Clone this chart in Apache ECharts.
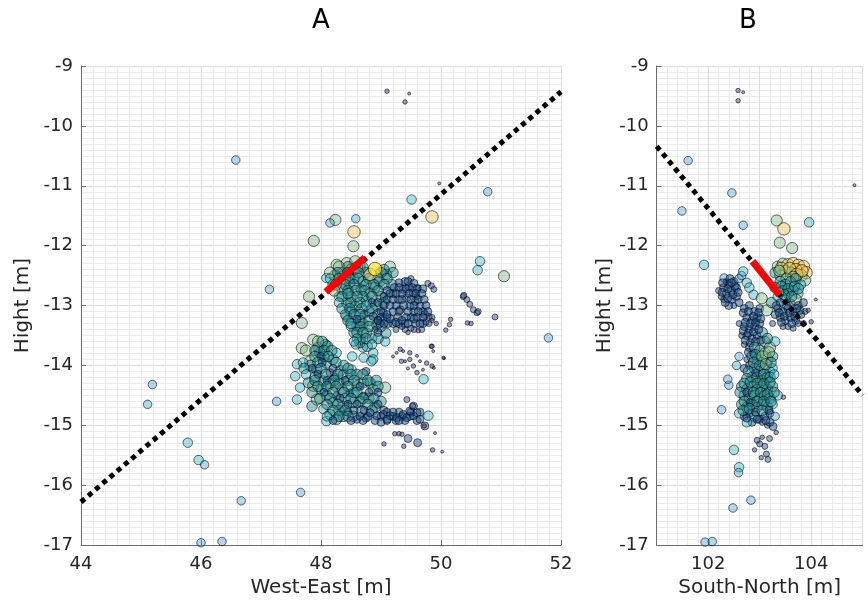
<!DOCTYPE html>
<html><head><meta charset="utf-8">
<script src="https://cdn.jsdelivr.net/npm/echarts@6/dist/echarts.min.js"></script>
<style>html,body{margin:0;padding:0;background:#fff}#c{width:868px;height:603px}</style>
</head><body><div id="c"></div>
<script>
// ---------- DATA: each point = [horizontal position (m), Hight (m), magnitude class 0..10] ----------
// Panel A (West-East)
const aOutliers = [
  [49.1,-9.42,1],[49.47,-9.46,0],[49.4,-9.6,1],[46.58,-10.57,4],[49.97,-10.96,0],[50.78,-11.1,4],
  [49.51,-11.23,5],[49.85,-11.52,8],[48.24,-11.57,7],[48.15,-11.62,4],[48.58,-11.55,4],[48.55,-11.77,8],
  [48.54,-12.01,7],[47.88,-11.92,7],[50.65,-12.26,5],[50.61,-12.41,5],[51.05,-12.51,7],[47.14,-12.73,4],
  [51.79,-13.54,4],[50.9,-13.19,2],[45.19,-14.32,4],[45.11,-14.65,4],[47.26,-14.6,4],[45.78,-15.29,5],
  [45.96,-15.58,5],[46.06,-15.66,4],[47.66,-16.12,4],[46.67,-16.26,4],[46.0,-16.96,4],[46.35,-16.94,4],
  [47.8,-12.85,7],[47.68,-13.29,7]
];
const aUpper = [
  [48.26,-12.32,7],[48.43,-12.29,7],[48.57,-12.26,7],[48.09,-12.54,5],[48.23,-12.5,7],[48.35,-12.45,6],
  [48.5,-12.4,7],[48.65,-12.35,6],[49.15,-12.35,7],[49.09,-12.48,6],[48.98,-12.6,6],[49.18,-12.65,6],
  [49.05,-12.4,6],[48.48,-12.62,6],[48.35,-12.73,6],[48.67,-12.73,6],[48.82,-12.79,6],[48.2,-12.65,6],
  [48.43,-12.96,6],[48.57,-13.02,6],[48.76,-12.93,6],[48.93,-13.01,6],[48.3,-12.85,5],[48.43,-13.18,6],
  [48.6,-13.34,6],[48.76,-13.46,6],[48.65,-13.57,6],[48.93,-13.32,6],[49.07,-13.6,5],[49.08,-13.46,6],
  [48.55,-13.45,6],[48.7,-13.7,5],[48.87,-13.79,5],[48.71,-13.87,5],[48.52,-13.85,5],[48.87,-13.9,5],
  [48.65,-13.62,6],[48.77,-13.68,6],[48.55,-12.55,6],[48.7,-12.6,6],[48.9,-12.7,6],[48.4,-12.55,7],
  [48.75,-12.45,6],[49.0,-12.85,6],[48.8,-13.1,6],[48.5,-13.1,6],[48.7,-13.3,6],[48.85,-13.55,5],
  [48.3,-12.35,7],[48.45,-12.35,6],[48.6,-12.36,7],[48.7,-12.36,6],
  [48.15,-12.45,7],[48.28,-12.45,6],[48.45,-12.45,6],[48.62,-12.45,6],[49.0,-12.45,6],[49.2,-12.45,6],
  [48.15,-12.55,5],[48.3,-12.55,6],[48.48,-12.55,6],[48.62,-12.55,6],[48.8,-12.55,6],[48.95,-12.55,6],[49.1,-12.55,6],
  [48.25,-12.65,7],[48.4,-12.65,6],[48.55,-12.65,6],[48.75,-12.65,6],[48.88,-12.65,6],[49.05,-12.65,6],
  [48.22,-12.75,7],[48.45,-12.75,6],[48.58,-12.75,6],[48.72,-12.75,6],[48.95,-12.75,6],[49.1,-12.75,3],
  [48.35,-12.85,6],[48.5,-12.85,6],[48.7,-12.85,6],[48.85,-12.85,6],[49.05,-12.85,3],
  [48.3,-12.95,5],[48.5,-12.95,6],[48.65,-12.95,6],[48.85,-12.95,3],[49.05,-12.95,6],
  [48.35,-13.05,6],[48.48,-13.05,6],[48.68,-13.05,6],[48.85,-13.05,6],
  [48.4,-13.15,5],[48.55,-13.15,6],[48.72,-13.15,3],[48.95,-13.15,6],
  [48.45,-13.25,6],[48.65,-13.25,6],[48.8,-13.25,6],[48.95,-13.25,3],
  [48.5,-13.35,5],[48.65,-13.35,6],[48.8,-13.35,6],[49.0,-13.35,6],
  [48.6,-13.45,6],[48.7,-13.45,6],[48.95,-13.45,3],[48.6,-13.55,5],[48.75,-13.55,6],[48.95,-13.55,6],
  [48.58,-13.65,5],[48.85,-13.65,5],
  [48.6,-12.85,6],[48.75,-13.0,5],[48.5,-13.3,6],[48.9,-13.4,2],[48.65,-13.15,6],[48.45,-12.8,6],
  [48.95,-12.95,3],[48.55,-13.6,5],[48.6,-13.23,3],[48.87,-13.18,3],[49.04,-13.12,3],
  [48.82,-12.48,8],[48.9,-12.39,10]
];
const aRight = [
  [49.37,-12.73,3],[49.46,-12.68,3],[49.54,-12.79,3],[49.43,-12.87,3],[49.57,-12.93,3],[49.48,-13.01,3],
  [49.65,-13.01,3],[49.32,-13.07,3],[49.29,-12.9,3],[49.4,-12.6,3],[49.5,-12.55,2],[49.6,-12.85,2],
  [49.2,-12.8,3],[49.25,-13.0,3],[49.55,-13.1,3],[49.7,-13.1,3],[49.62,-12.7,2],[49.78,-12.63,2],
  [49.84,-12.67,2],[49.88,-12.73,2],[49.73,-13.15,3],[49.8,-13.18,2],
  [49.3,-12.62,3],[49.45,-12.6,3],[49.55,-12.63,3],
  [49.22,-12.7,3],[49.3,-12.7,3],[49.42,-12.72,3],[49.52,-12.7,3],[49.6,-12.72,3],[49.7,-12.72,3],
  [49.15,-12.8,3],[49.25,-12.8,3],[49.35,-12.8,3],[49.47,-12.8,3],[49.58,-12.8,3],[49.68,-12.8,3],
  [49.1,-12.9,3],[49.2,-12.9,3],[49.35,-12.9,3],[49.5,-12.9,3],[49.62,-12.9,3],[49.72,-12.9,3],
  [49.05,-13.0,3],[49.15,-13.0,3],[49.38,-13.0,3],[49.55,-13.0,3],[49.75,-13.0,3],
  [49.0,-13.1,3],[49.2,-13.1,3],[49.3,-13.1,3],[49.45,-13.1,3],[49.62,-13.1,3],[49.78,-13.1,3],
  [49.0,-13.2,3],[49.1,-13.2,3],[49.28,-13.2,3],[49.42,-13.2,3],[49.5,-13.2,3],[49.6,-13.2,3],[49.7,-13.2,3],[49.85,-13.2,2],
  [48.98,-13.3,3],[49.12,-13.3,3],[49.2,-13.3,3],[49.3,-13.3,3],[49.4,-13.3,3],[49.58,-13.3,3],[49.7,-13.3,3],[49.8,-13.3,2],
  [49.25,-13.4,2],[49.4,-13.4,2],[49.55,-13.4,2],[49.68,-13.4,2],
  [48.95,-13.25,3],[49.05,-13.3,3],[49.15,-13.22,3],[49.25,-13.28,3],[49.35,-13.25,3],[49.45,-13.3,3],
  [49.55,-13.22,3],[49.65,-13.3,3],[49.35,-13.35,2],[49.75,-13.28,2],[49.85,-13.25,1],[49.92,-13.3,1],
  [49.1,-13.15,3],[49.5,-13.38,2],[49.62,-13.42,1],[49.45,-13.45,1],
  [50.37,-12.85,2],[50.43,-12.9,2],[50.48,-12.98,2],[50.54,-13.07,2],[50.6,-13.12,2],[50.62,-13.1,2],
  [50.44,-13.29,1],[50.5,-13.3,1],[50.38,-12.83,2],[50.08,-13.41,1],[50.16,-13.23,1],[50.14,-13.32,1],
  [49.84,-13.68,1],[50.05,-13.88,0]
];
const aFine = [
  [49.26,-13.79,0],[49.32,-13.73,1],[49.37,-13.76,0],[49.48,-13.79,1],[49.6,-13.84,0],[49.34,-13.93,1],
  [49.4,-13.93,0],[49.48,-13.9,1],[49.65,-13.93,0],[49.76,-13.96,1],[49.85,-13.68,1],[49.87,-13.76,0],
  [50.04,-13.87,0],[49.54,-14.01,1],[49.7,-14.07,0],[49.85,-14.01,1],[49.88,-14.04,0],[49.6,-14.12,1],
  [49.2,-13.85,0],[49.45,-14.05,0]
];
const aLower = [
  [47.68,-13.71,7],[47.87,-13.57,7],[48.07,-13.65,6],[48.11,-13.68,6],[47.98,-13.79,6],[47.82,-13.93,7],
  [47.6,-13.98,5],[47.57,-14.18,5],[47.65,-14.37,5],[47.6,-14.57,5],[47.87,-14.34,7],[47.82,-14.0,6],
  [47.93,-14.07,6],[48.09,-13.96,6],[48.2,-13.9,6],[48.26,-13.79,5],[48.15,-14.12,3],[48.04,-14.26,6],
  [48.23,-14.2,3],[48.32,-14.09,6],[48.37,-14.15,5],[48.51,-14.07,5],[48.84,-13.93,5],[47.79,-14.29,6],
  [47.93,-14.57,7],[47.85,-14.68,6],[48.04,-14.73,5],[48.2,-14.62,6],[48.26,-14.51,3],[48.35,-14.4,6],
  [48.48,-14.46,3],[48.6,-14.34,6],[48.71,-14.29,6],[48.82,-14.29,6],[48.87,-14.4,6],[49.07,-14.37,7],
  [48.71,-14.51,3],[48.54,-14.62,6],[48.37,-14.68,6],[48.37,-14.85,6],[48.09,-14.93,5],[48.26,-14.9,6],
  [48.54,-14.85,6],[48.68,-14.76,6],[48.0,-14.4,6],[48.1,-14.5,6],[48.15,-14.3,6],[48.3,-14.3,6],
  [48.45,-14.25,6],[48.55,-14.45,6],[48.65,-14.6,6],[48.4,-14.55,6],[48.3,-14.75,6],[48.45,-14.78,3],
  [48.6,-14.9,3],[48.75,-14.88,3],[48.9,-14.7,6],[49.0,-14.6,6],[48.8,-14.55,6],[47.95,-13.7,6],
  [48.05,-13.85,6],[47.9,-14.2,6],[48.15,-14.82,6],[48.38,-14.0,6],[48.6,-14.15,6],[48.75,-14.1,3],
  [47.95,-13.6,7],[48.02,-13.6,6],
  [47.75,-13.75,7],[47.9,-13.75,6],[48.05,-13.75,6],[48.18,-13.75,6],
  [47.9,-13.85,6],[48.0,-13.85,3],[48.12,-13.85,6],
  [47.7,-13.95,5],[47.95,-13.95,6],[48.02,-13.95,3],[48.25,-13.95,6],
  [47.72,-14.05,6],[47.85,-14.05,3],[48.0,-14.05,6],[48.2,-14.05,3],[48.45,-14.05,6],
  [47.75,-14.15,5],[47.95,-14.15,3],[48.08,-14.15,6],[48.28,-14.15,6],[48.5,-14.15,6],[48.7,-14.15,6],
  [47.9,-14.25,6],[48.1,-14.25,3],[48.22,-14.25,6],[48.4,-14.25,3],[48.55,-14.25,6],[48.78,-14.25,6],[48.92,-14.25,6],
  [47.95,-14.35,6],[48.1,-14.35,6],[48.25,-14.35,6],[48.45,-14.35,6],[48.65,-14.35,3],[48.95,-14.35,6],
  [47.85,-14.45,6],[48.05,-14.45,3],[48.2,-14.45,6],[48.38,-14.45,6],[48.6,-14.45,6],[48.8,-14.45,3],[48.95,-14.45,3],
  [47.98,-14.55,6],[48.15,-14.55,6],[48.32,-14.55,3],[48.5,-14.55,6],[48.7,-14.55,6],[48.88,-14.55,6],
  [48.1,-14.65,6],[48.28,-14.65,6],[48.45,-14.65,3],[48.6,-14.65,3],[48.78,-14.65,6],[48.95,-14.65,3],
  [48.2,-14.75,6],[48.4,-14.75,6],[48.55,-14.75,3],[48.72,-14.75,3],[48.85,-14.75,6],[49.05,-14.75,3],
  [48.1,-14.85,5],[48.3,-14.85,6],[48.45,-14.85,6],[48.65,-14.85,3],[48.78,-14.85,3],[49.0,-14.85,3],
  [49.2,-14.85,3],[49.35,-14.85,3],[49.48,-14.85,3],
  [48.2,-14.92,3],[48.5,-14.92,3],[48.7,-14.92,3],[48.9,-14.92,3],[49.1,-14.92,3],[49.25,-14.92,3],
  [49.4,-14.92,3],[49.6,-14.92,3],[49.1,-14.78,3],[49.3,-14.78,3],[49.5,-14.78,3],[49.65,-14.78,3],
  [48.82,-14.79,3],[48.93,-14.84,3],[49.04,-14.82,3],[49.15,-14.84,3],[49.26,-14.87,3],[49.37,-14.82,3],
  [49.43,-14.87,3],[49.54,-14.84,3],[49.6,-14.79,3],[49.79,-14.84,5],[49.73,-15.01,3],[49.1,-14.9,3],
  [49.2,-14.78,3],[49.3,-14.92,3],[49.48,-14.76,3],[49.65,-14.9,3],[49.0,-14.95,3],[49.54,-14.68,3],
  [49.71,-14.23,5]
];
const aTail = [
  [49.23,-15.14,1],[49.3,-15.14,1],[49.35,-15.15,1],[49.45,-15.22,3],[49.05,-15.31,1],[49.38,-15.35,1],
  [49.61,-15.29,3],[49.86,-15.41,1],[50.02,-15.44,0],[49.9,-15.13,0],[49.72,-15.01,1],[49.53,-14.68,2],
  [49.43,-14.57,2]
];
// Panel B (South-North)
const bOutliers = [
  [102.58,-9.41,1],[102.68,-9.44,0],[102.58,-9.58,1],[101.61,-10.58,4],[101.49,-11.42,4],[102.46,-11.12,4],
  [102.68,-11.66,4],[104.84,-10.99,0],[101.92,-12.32,5],[102.31,-12.54,4],[103.33,-11.58,7],[103.47,-11.72,8],
  [103.39,-11.95,7],[103.63,-12.04,7],[103.96,-11.61,5],[104.09,-12.9,0],[103.46,-14.53,1],[102.4,-14.33,4],
  [102.38,-14.23,4],[102.26,-14.74,4],[102.5,-15.41,5],[102.6,-15.7,5],[102.59,-15.79,4],[102.83,-16.25,4],
  [102.48,-16.38,4],[101.94,-16.95,4],[102.08,-16.94,4]
];
const bBlob = [
  [102.3,-12.7,3],[102.35,-12.8,3],[102.4,-12.65,3],[102.45,-12.75,3],[102.5,-12.6,3],[102.55,-12.7,3],
  [102.45,-12.9,3],[102.3,-12.9,2],[102.4,-13.0,3],[102.55,-12.85,3],[102.6,-12.55,4],[102.35,-12.6,2],
  [102.25,-12.85,2],[102.5,-13.0,2],[102.6,-12.95,3],[102.65,-12.5,4],[102.2,-12.75,2],
  [102.28,-12.62,3],[102.38,-12.72,3],[102.48,-12.82,3],[102.42,-12.55,3],[102.52,-12.68,3],[102.33,-12.95,3],
  [102.58,-12.78,3],[102.27,-12.78,3],[102.45,-12.62,3],[102.38,-12.88,3],
  [102.75,-12.62,5],[102.88,-12.82,5],[103.04,-12.88,7],[102.68,-12.43,5],[103.14,-13.08,7],[103.23,-12.95,6],
  [102.8,-12.7,5]
];
const bColumn = [
  [102.7,-13.05,3],[102.8,-13.0,3],[102.9,-13.1,3],[103.0,-13.05,3],[102.75,-13.2,3],[102.85,-13.25,3],
  [102.95,-13.2,3],[102.7,-13.35,3],[102.8,-13.4,3],[102.9,-13.35,3],[103.0,-13.3,3],[102.75,-13.5,3],
  [102.85,-13.55,3],[102.95,-13.5,3],[102.7,-13.65,2],[102.8,-13.7,3],[102.65,-13.5,2],[103.05,-13.45,6],
  [103.1,-13.6,6],[102.6,-13.3,2],
  [102.68,-13.12,3],[102.78,-13.1,3],[102.88,-13.18,3],[102.98,-13.12,3],[102.72,-13.28,3],[102.82,-13.3,3],
  [102.92,-13.28,3],[103.02,-13.22,3],[102.68,-13.42,3],[102.78,-13.46,3],[102.88,-13.44,3],[102.98,-13.4,3],
  [102.72,-13.58,3],[102.82,-13.62,3],[102.92,-13.6,3],[103.02,-13.58,3],[102.78,-13.78,3],[102.88,-13.8,3],
  [102.9,-13.7,6],[103.0,-13.75,6],[103.1,-13.8,7],[103.2,-13.7,7],[102.85,-13.85,6],[102.95,-13.9,6],
  [103.05,-13.95,6],[103.15,-13.9,7],[103.25,-13.85,6],[102.8,-14.0,3],[102.9,-14.05,6],[103.0,-14.1,6],
  [103.1,-14.05,6],[103.2,-14.1,5],[102.75,-13.9,2],[102.7,-14.05,3],[102.95,-14.2,6],[103.05,-14.25,6],
  [103.15,-14.2,6],[102.85,-14.2,6],[103.25,-14.05,5],[103.3,-13.6,5],[102.6,-13.85,4],[102.55,-14.0,4],
  [103.15,-13.55,6],
  [102.92,-13.82,6],[103.05,-13.85,7],[103.18,-13.78,7],[102.88,-13.95,6],[103.0,-14.0,6],[103.12,-13.98,7],
  [103.22,-13.95,6],[102.78,-14.1,6],[102.92,-14.12,3],[103.08,-14.15,6],[103.2,-14.2,6],[102.75,-14.22,6],
  [103.28,-14.15,5],
  [102.65,-14.35,6],[102.75,-14.4,6],[102.85,-14.35,6],[102.95,-14.4,6],[103.05,-14.35,6],[103.15,-14.4,6],
  [103.25,-14.35,6],[102.7,-14.5,6],[102.8,-14.55,6],[102.9,-14.5,6],[103.0,-14.55,6],[103.1,-14.5,6],
  [103.2,-14.55,6],[102.65,-14.65,6],[102.75,-14.7,6],[102.85,-14.65,6],[102.95,-14.7,6],[103.05,-14.65,6],
  [103.15,-14.7,6],[103.25,-14.65,5],[102.7,-14.85,3],[102.8,-14.8,3],[102.9,-14.85,6],[103.0,-14.9,3],
  [103.1,-14.85,3],[103.2,-14.8,3],[102.6,-14.8,5],[103.3,-14.85,4],[103.35,-14.5,5],[102.85,-14.95,3],
  [103.05,-14.95,2],[103.15,-15.0,2],[103.2,-14.95,3],[102.75,-14.95,5],
  [102.7,-14.3,6],[102.82,-14.28,6],[102.95,-14.3,6],[103.08,-14.3,6],[103.2,-14.28,6],[102.62,-14.45,6],
  [102.75,-14.45,3],[102.88,-14.45,6],[103.02,-14.45,6],[103.15,-14.48,6],[103.28,-14.45,6],[102.7,-14.6,6],
  [102.82,-14.62,3],[102.95,-14.6,6],[103.08,-14.6,6],[103.22,-14.6,6],[102.68,-14.75,6],[102.8,-14.72,6],
  [102.92,-14.78,3],[103.05,-14.75,6],[103.18,-14.75,3],[102.75,-14.88,3],[102.95,-14.9,3],[103.12,-14.92,3]
];
const bTail = [
  [102.9,-15.41,1],[103.0,-15.31,2],[103.1,-15.35,2],[103.13,-15.48,2],[103.03,-15.54,1],[103.16,-15.57,2],
  [103.19,-15.22,2],[103.26,-15.02,3],[103.32,-15.12,1],[103.05,-15.2,1],[102.95,-15.25,2]
];
const bNorth = [
  [103.35,-12.35,7],[103.45,-12.3,7],[103.55,-12.32,8],[103.65,-12.3,8],[103.75,-12.33,8],[103.85,-12.35,8],
  [103.9,-12.45,8],[103.7,-12.4,8],[103.5,-12.42,7],[103.4,-12.5,7],[103.6,-12.45,7],[103.8,-12.5,8],
  [103.88,-12.58,7],[103.3,-12.45,6],
  [103.42,-12.38,8],[103.58,-12.38,8],[103.72,-12.48,8],[103.82,-12.42,8],[103.65,-12.52,7],[103.52,-12.55,7],
  [103.38,-12.42,7],
  [103.4,-12.6,6],[103.5,-12.65,6],[103.6,-12.6,6],[103.7,-12.55,6],[103.8,-12.65,5],[103.45,-12.75,6],
  [103.55,-12.8,6],[103.65,-12.75,6],[103.35,-12.85,5],[103.75,-12.8,5],[103.5,-12.9,5],[103.6,-12.95,3],
  [103.4,-12.95,3],[103.7,-12.9,7],[103.3,-12.7,6],
  [103.42,-12.68,6],[103.55,-12.72,6],[103.68,-12.68,6],[103.48,-12.82,6],[103.62,-12.85,6],[103.38,-12.78,5],
  [103.75,-12.72,6],
  [103.35,-13.05,3],[103.45,-13.1,3],[103.55,-13.05,3],[103.65,-13.1,3],[103.75,-13.0,3],[103.85,-12.95,3],
  [103.4,-13.2,3],[103.5,-13.25,3],[103.6,-13.2,3],[103.7,-13.25,3],[103.8,-13.15,3],[103.88,-13.1,2],
  [103.55,-13.35,2],[103.65,-13.38,2],[103.75,-13.3,2],[103.45,-13.35,2],[103.85,-13.3,2],[103.94,-13.08,1],
  [104.0,-13.27,1],[103.3,-13.15,3],[103.25,-13.3,2],
  [103.38,-13.12,3],[103.48,-13.18,3],[103.58,-13.12,3],[103.68,-13.18,3],[103.78,-13.08,3],[103.42,-13.28,3],
  [103.62,-13.3,3],[103.72,-13.05,3],[103.52,-13.0,3],[103.32,-13.0,3]
];
// Fitted plane traces (dotted) and rupture segment (red)
const dottedA_x = [44, 52],        dottedA_y = [-16.28, -9.43];
const redA_x    = [48.08, 48.73],  redA_y    = [-12.77, -12.2];
const dottedB_x = [101, 105],      dottedB_y = [-10.34, -14.5];
const redB_x    = [102.86, 103.38], redB_y   = [-12.26, -12.82];
// Axis ticks
const xTicksA = [44, 46, 48, 50, 52];
const xTicksB = [102, 104];
const yTicks  = [-17, -16, -15, -14, -13, -12, -11, -10, -9];

// ---------- CHART ----------
const FONT = 'DejaVu Sans';
const TXT = '#262626';
const sizeTable = [3, 4.5, 6, 8, 8.5, 9.5, 10.5, 11.2, 12.5, 13, 13.5];
const sizeFor = v => sizeTable[Math.max(0, Math.min(10, Math.round(v[2])))];
const zip = (xs, ys) => xs.map((x, i) => [x, ys[i]]);

function xAxis(gi, min, max, interval, minorN, ticks, name, nameGap) {
  return {
    type: 'value', gridIndex: gi, min: min, max: max, interval: interval, position: 'bottom',
    name: name, nameLocation: 'middle', nameGap: nameGap,
    nameTextStyle: {fontFamily: FONT, fontSize: 20, color: TXT},
    axisLine: {show: true, onZero: false, lineStyle: {color: '#6b6b6b', width: 1}},
    axisTick: {show: gi === 0, inside: true, length: 5, lineStyle: {color: '#6b6b6b'}},
    axisLabel: {fontFamily: FONT, fontSize: 18, color: TXT, margin: 10,
      formatter: v => ticks.some(t => Math.abs(t - v) < 1e-6) ? String(Math.round(v)) : ''},
    splitLine: {show: true, lineStyle: {color: '#dcdcdc', width: 1}},
    minorTick: {show: false, splitNumber: minorN},
    minorSplitLine: {show: true, lineStyle: {color: '#ebebeb', width: 1}}
  };
}
function yAxis(gi, nameGap) {
  return {
    type: 'value', gridIndex: gi, min: yTicks[0], max: yTicks[yTicks.length - 1], interval: 1,
    name: 'Hight [m]', nameLocation: 'middle', nameGap: nameGap,
    nameTextStyle: {fontFamily: FONT, fontSize: 20, color: TXT},
    axisLine: {show: true, onZero: false, lineStyle: {color: '#6b6b6b', width: 1}},
    axisTick: {show: true, inside: true, length: 5, lineStyle: {color: '#6b6b6b'}},
    axisLabel: {fontFamily: FONT, fontSize: 18, color: TXT, margin: 8},
    splitLine: {show: true, lineStyle: {color: '#dcdcdc', width: 1}},
    minorTick: {show: false, splitNumber: 10},
    minorSplitLine: {show: true, lineStyle: {color: '#ebebeb', width: 1}}
  };
}
const scatterStyle = {borderColor: 'rgba(0,0,0,0.72)', borderWidth: 1};
function scatter(gi, data) {
  return {type: 'scatter', xAxisIndex: gi, yAxisIndex: gi, data: data, symbol: 'circle',
    symbolSize: sizeFor, itemStyle: scatterStyle, silent: true, z: 2};
}
function line(gi, xs, ys, style, z) {
  return {type: 'line', xAxisIndex: gi, yAxisIndex: gi, data: zip(xs, ys), showSymbol: false,
    symbol: 'none', lineStyle: style, silent: true, z: z};
}
const dotted = {color: '#000', width: 5, type: [5, 4.5], cap: 'butt'};
const red = {color: '#ff0000', width: 7, cap: 'butt'};

const chart = echarts.init(document.getElementById('c'), null, {renderer: 'canvas'});
chart.setOption({
  animation: false,
  backgroundColor: '#ffffff',
  grid: [
    {left: 81, top: 66, width: 480, height: 480.7, containLabel: false},
    {left: 656.7, top: 66, width: 206, height: 484, containLabel: false}
  ],
  xAxis: [
    xAxis(0, xTicksA[0], xTicksA[xTicksA.length - 1], 2, 10, xTicksA, 'West-East [m]', 29),
    xAxis(1, 101, 105, 1, 5, xTicksB, 'South-North [m]', 31)
  ],
  yAxis: [yAxis(0, 42), yAxis(1, 42)],
  visualMap: {
    type: 'continuous', show: false, dimension: 2, min: 0, max: 10, seriesIndex: [0, 1],
    inRange: {color: [
      'rgba(40,40,110,0.5)', 'rgba(35,50,120,0.55)', 'rgba(30,68,138,0.55)', 'rgba(20,78,142,0.6)',
      'rgba(63,159,216,0.5)', 'rgba(42,180,198,0.5)', 'rgba(24,135,140,0.55)', 'rgba(130,190,135,0.55)',
      'rgba(236,194,84,0.55)', 'rgba(250,215,50,0.65)', 'rgba(255,226,26,0.8)'
    ]}
  },
  series: [
    scatter(0, [].concat(aOutliers, aUpper, aLower, aRight, aFine, aTail)),
    scatter(1, [].concat(bOutliers, bColumn, bBlob, bTail, bNorth)),
    line(0, dottedA_x, dottedA_y, dotted, 5),
    line(0, redA_x, redA_y, red, 6),
    line(1, dottedB_x, dottedB_y, dotted, 5),
    line(1, redB_x, redB_y, red, 6)
  ],
  graphic: [
    {type: 'text', x: 321, y: 21, style: {text: 'A', font: '26px "DejaVu Sans"', fill: '#000', align: 'center', verticalAlign: 'middle'}},
    {type: 'text', x: 748, y: 21, style: {text: 'B', font: '26px "DejaVu Sans"', fill: '#000', align: 'center', verticalAlign: 'middle'}}
  ]
});
</script></body></html>
